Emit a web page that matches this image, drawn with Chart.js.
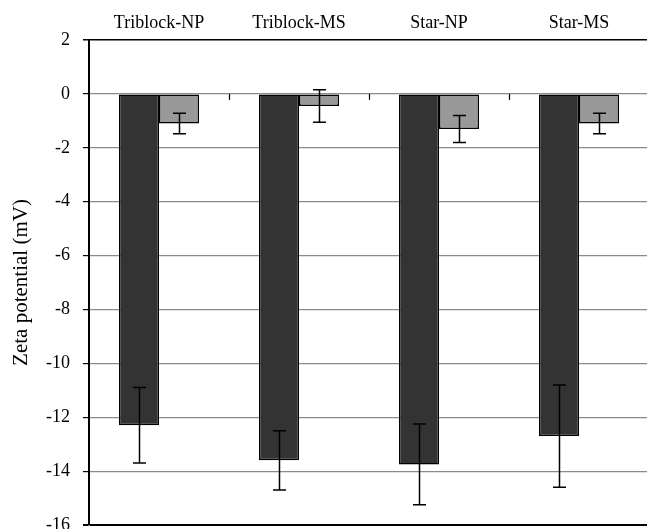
<!DOCTYPE html>
<html>
<head>
<meta charset="utf-8">
<script src="https://cdn.jsdelivr.net/npm/chart.js@4/dist/chart.umd.min.js"></script>
<style>
  html,body{margin:0;padding:0;background:#fff;overflow:hidden;}
  #wrap{width:652px;height:529px;}
</style>
</head>
<body>
<div id="wrap"><canvas id="chart" width="652" height="529"></canvas></div>
<script>
// Data
const categories = ["Triblock-NP","Triblock-MS","Star-NP","Star-MS"];
const darkValues = [-12.3,-13.6,-13.75,-12.7];
const darkErrors = [1.4,1.1,1.5,1.9];
const grayValues = [-1.1,-0.45,-1.3,-1.1];
const grayErrors = [0.38,0.6,0.5,0.38];
const yTicks = [2,0,-2,-4,-6,-8,-10,-12,-14,-16];

const serif = "'Liberation Serif','Times New Roman',serif";

// Error bars + small category ticks on the zero line
const extras = {
  id:"extras",
  afterDatasetsDraw(chart){
    const ctx = chart.ctx;
    const y = chart.scales.y;
    const x = chart.scales.x;
    ctx.save();
    ctx.strokeStyle = "#000";
    ctx.lineWidth = 1.5;
    const errs = [darkErrors, grayErrors];
    chart.data.datasets.forEach((ds,i)=>{
      const meta = chart.getDatasetMeta(i);
      meta.data.forEach((bar,j)=>{
        const v = ds.data[j], e = errs[i][j];
        const top = y.getPixelForValue(v+e), bot = y.getPixelForValue(v-e);
        const cx = Math.round(bar.x)+0.5;
        ctx.beginPath();
        ctx.moveTo(cx,top); ctx.lineTo(cx,bot);
        ctx.moveTo(cx-6.5,top); ctx.lineTo(cx+6.5,top);
        ctx.moveTo(cx-6.5,bot); ctx.lineTo(cx+6.5,bot);
        ctx.stroke();
      });
    });
    // tick marks between categories at y = 0
    const y0 = y.getPixelForValue(0);
    ctx.lineWidth = 1.2;
    for(let k=1;k<categories.length;k++){
      const px = Math.round((x.getPixelForValue(k-1)+x.getPixelForValue(k))/2)+0.5;
      ctx.beginPath(); ctx.moveTo(px,y0); ctx.lineTo(px,y0+6); ctx.stroke();
    }
    ctx.restore();
  }
};

new Chart(document.getElementById("chart"),{
  type:"bar",
  data:{
    labels:categories,
    datasets:[
      {label:"dark",data:darkValues,backgroundColor:"#333333",borderColor:"#000",borderWidth:1.5,borderSkipped:false},
      {label:"gray",data:grayValues,backgroundColor:"#999999",borderColor:"#000",borderWidth:1.5,borderSkipped:false}
    ]
  },
  options:{
    responsive:false,
    animation:false,
    devicePixelRatio:1,
    layout:{padding:{left:0,right:3,top:0,bottom:4}},
    plugins:{legend:{display:false},tooltip:{enabled:false}},
    datasets:{bar:{categoryPercentage:80/140,barPercentage:1}},
    scales:{
      x:{
        position:"top",
        grid:{display:false},
        border:{display:false},
        ticks:{color:"#000",font:{family:serif,size:18},padding:-2,maxRotation:0},
        afterFit(s){ s.height = 40; s.paddingLeft = 0; s.paddingRight = 0; }
      },
      y:{
        min:-16,max:2,
        afterBuildTicks(s){ s.ticks = yTicks.map(v=>({value:v})); },
        grid:{
          color:c=> (c.tick && (c.tick.value===2 || c.tick.value===-16)) ? "#000" : "#8a8a8a",
          lineWidth:c=> (c.tick && c.tick.value===-16) ? 2 : (c.tick && c.tick.value===2 ? 1.5 : 1.2),
          tickColor:"#000",
          tickLength:6
        },
        border:{display:true,color:"#000",width:2},
        ticks:{color:"#000",font:{family:serif,size:18},padding:13},
        title:{display:true,text:"Zeta potential (mV)",color:"#000",font:{family:serif,size:21},padding:{top:9,bottom:0}},
        afterFit(s){ s.width = 89; s.paddingTop = 0; s.paddingBottom = 0; }
      }
    }
  },
  plugins:[extras]
});
</script>
</body>
</html>
